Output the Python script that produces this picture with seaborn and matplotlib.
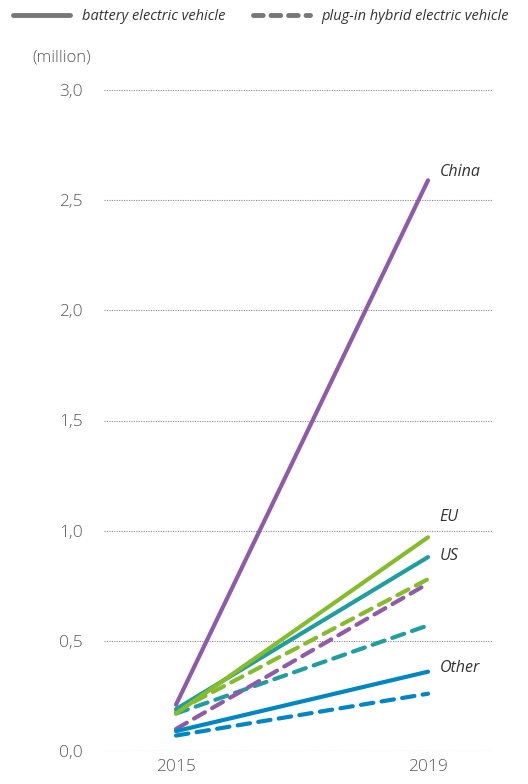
import matplotlib
matplotlib.use("Agg")
import matplotlib.pyplot as plt
import seaborn as sns
import pandas as pd
from matplotlib.lines import Line2D

years = [2015, 2019]
regions = ["China", "EU", "US", "Other"]
bev = {"China": [0.21, 2.59], "EU": [0.17, 0.97], "US": [0.19, 0.88], "Other": [0.09, 0.36]}
phev = {"China": [0.10, 0.76], "EU": [0.18, 0.78], "US": [0.17, 0.57], "Other": [0.07, 0.26]}
colors = {"China": "#8F5BA8", "EU": "#86BC2B", "US": "#1F9E9F", "Other": "#0087C3"}
yticks = [0.0, 0.5, 1.0, 1.5, 2.0, 2.5, 3.0]
ytick_labels = ["0,0", "0,5", "1,0", "1,5", "2,0", "2,5", "3,0"]
types = ["battery electric vehicle", "plug-in hybrid electric vehicle"]

rows = []
for r in regions:
    for i, y in enumerate(years):
        rows.append({"year": y, "region": r, "type": types[0], "value": bev[r][i]})
        rows.append({"year": y, "region": r, "type": types[1], "value": phev[r][i]})
df = pd.DataFrame(rows)

sns.set_theme(style="white")
plt.rcParams["font.family"] = ["Open Sans", "DejaVu Sans"]

fig = plt.figure(figsize=(5.28, 7.84), dpi=100)
ax = fig.add_axes([104/528, 33/784, 388/528, 661/784])

order = [types[1], types[0]]
for t in order:
    sub = df[df["type"] == t]
    sns.lineplot(data=sub, x="year", y="value", hue="region", palette=colors,
                 hue_order=["Other", "US", "EU", "China"], ax=ax, legend=False,
                 linewidth=3.0, clip_on=False)
for ln in ax.lines[:4]:
    ln.set_dashes((3, 2))
    ln.set_dash_capstyle("round")
for ln in ax.lines[4:]:
    ln.set_solid_capstyle("round")

ax.set_xlim(2015 - 72/63, 2019 + 64/63)
ax.set_ylim(0, 3.0)
ax.set_yticks(yticks)
ax.set_yticklabels(ytick_labels)
ax.set_xticks(years)
ax.set_xticklabels(["2015", "2019"])
for s in ax.spines.values():
    s.set_visible(False)
for yv in yticks:
    ax.axhline(yv, color="#888888", linestyle=(0, (1, 1.2)), linewidth=0.8, zorder=0)
ax.tick_params(axis="y", length=0, pad=15, labelsize=12.5, labelcolor="#5a5a5a")
ax.tick_params(axis="x", length=0, pad=6, labelsize=12.5, labelcolor="#5a5a5a")
for lab in ax.get_xticklabels() + ax.get_yticklabels():
    lab.set_fontweight("light")
ax.set_xlabel("")
ax.set_ylabel("")

label_y = {"China": 2.63, "EU": 1.06, "US": 0.885, "Other": 0.375}
for r in regions:
    ax.text(2019.18, label_y[r], r, fontsize=11.5, fontstyle="italic", color="#333333",
            va="center", ha="left")

fig.text(62/528, 1 - 58/784, "(million)", fontsize=12, color="#5a5a5a", ha="center",
         va="center", fontweight="light")

handles = [Line2D([0], [0], color="#777777", lw=3.5, solid_capstyle="round"),
           Line2D([0], [0], color="#777777", lw=3.5, dashes=(2, 1.6), dash_capstyle="round")]
fig.legend(handles, types, loc="upper left", bbox_to_anchor=(0.0, 1.005), ncol=2,
           frameon=False, handlelength=3.9, columnspacing=1.9, handletextpad=0.8,
           prop={"style": "italic", "size": 10.5}, labelcolor="#333333")

fig.savefig("out.png", dpi=100)
